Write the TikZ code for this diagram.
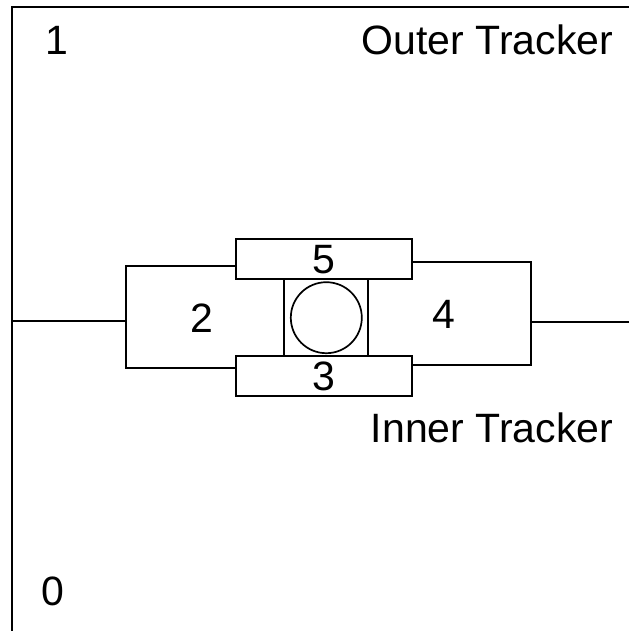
\documentclass[tikz,border=0pt]{standalone}
\usepackage{fontspec}
\setmainfont{Liberation Sans}
\begin{document}
\begin{tikzpicture}[x=1pt,y=-1pt,
  every path/.style={line width=1.7pt},
  box/.style={draw, rectangle, inner sep=0pt, line width=1.7pt},
  lbl/.style={inner sep=0pt, font=\fontsize{41}{49}\selectfont}]
\useasboundingbox (0,0) rectangle (629,631);
% frame
\coordinate (FB) at (12,631);
\coordinate (FC) at (12,7);
\coordinate (FR) at (629,7);
\draw (FB) -- (FC) -- (FR);
\node[lbl, anchor=base west] (one) at (45,55) {1};
\node[lbl, anchor=base west] (zero) at (41,605) {0};
\node[lbl, anchor=base east] (outer) at (614,55) {Outer Tracker};
\node[lbl, anchor=base east] (inner) at (614,442) {Inner Tracker};
% central parts
\node[box, lbl, minimum width=176.3pt, minimum height=40pt] (b5) at (323.85,259.3) {5};
\node[box, lbl, minimum width=176.3pt, minimum height=40pt] (b3) at (323.85,376) {3};
\node[box, minimum width=84pt, minimum height=76.7pt] (sq) at (326.3,317.65) {};
\node[draw, circle, inner sep=0pt, line width=1.7pt, minimum size=71pt] (ball) at (326.3,317.7) {};
% left bracket
\coordinate (L1) at (125.7,266);
\coordinate (L2) at (125.7,368);
\coordinate (Lin) at (12,321);
\draw (b5.west |- L1) -- (L1) -- (L2) -- (b3.west |- L2);
\draw (Lin) -- (Lin -| L1);
\node[lbl] (two) at (201.7,317.7) {2};
% right bracket
\coordinate (R1) at (530.7,262);
\coordinate (R2) at (530.7,364.7);
\coordinate (Rout) at (629,321.7);
\draw (b5.east |- R1) -- (R1) -- (R2) -- (b3.east |- R2);
\draw (Rout) -- (Rout -| R1);
\node[lbl] (four) at (444,314) {4};
\end{tikzpicture}
\end{document}
